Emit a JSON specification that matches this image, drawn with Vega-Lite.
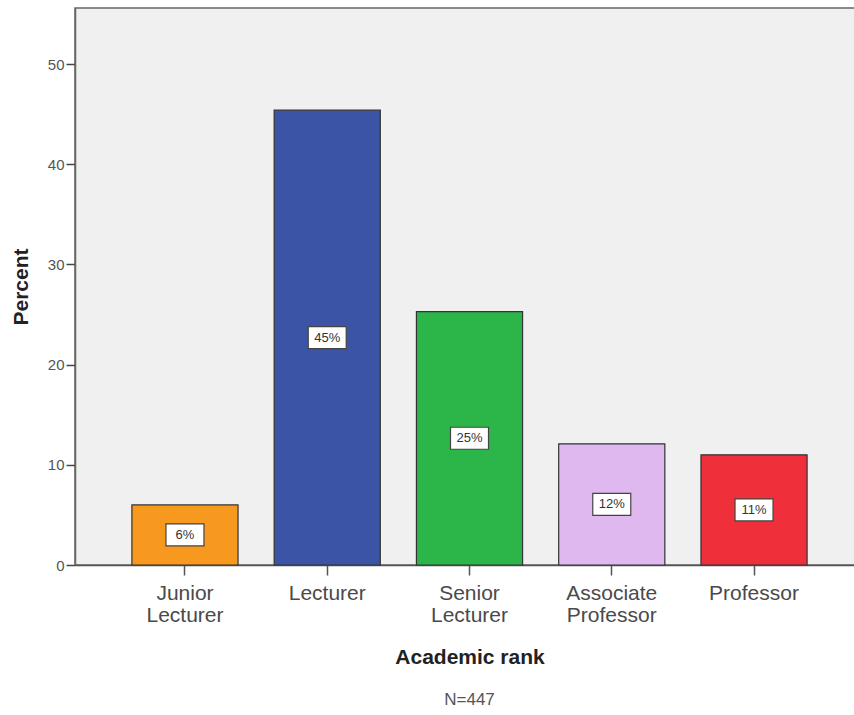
{
  "$schema": "https://vega.github.io/schema/vega-lite/v6.json",
  "autosize": {"type": "none"},
  "padding": {"left": 75, "top": 8, "right": 0, "bottom": 150},
  "width": 789,
  "height": 557,
  "background": "white",
  "config": {
    "font": "Liberation Sans",
    "view": {"fill": "#f0f0f0", "stroke": "#666", "strokeWidth": 1.5}
  },
  "title": {
    "text": "N=447",
    "orient": "bottom",
    "anchor": "middle",
    "fontSize": 17,
    "fontWeight": "normal",
    "color": "#555",
    "offset": 25
  },
  "data": {
    "values": [
      {"rank": "Junior Lecturer", "value": 6.0},
      {"rank": "Lecturer", "value": 45.4},
      {"rank": "Senior Lecturer", "value": 25.3},
      {"rank": "Associate Professor", "value": 12.1},
      {"rank": "Professor", "value": 11.0}
    ]
  },
  "transform": [
    {"calculate": "format(datum.value, '.0f') + '%'", "as": "label"}
  ],
  "encoding": {
    "x": {
      "field": "rank",
      "type": "nominal",
      "sort": null,
      "scale": {"paddingInner": 0.254, "paddingOuter": 0.4},
      "axis": {
        "title": "Academic rank",
        "titleFontSize": 21,
        "titleFontWeight": "bold",
        "titleColor": "#222",
        "titlePadding": 21,
        "labelAngle": 0,
        "labelExpr": "split(datum.label, ' ')",
        "labelFontSize": 21,
        "labelLineHeight": 22,
        "labelColor": "#4a4a4a",
        "labelPadding": 7,
        "tickSize": 10,
        "tickColor": "#555",
        "tickWidth": 1.5,
        "domainColor": "#555",
        "domainWidth": 1.5
      }
    }
  },
  "layer": [
    {
      "mark": {"type": "bar", "stroke": "#333", "strokeWidth": 1.2},
      "encoding": {
        "y": {
          "field": "value",
          "type": "quantitative",
          "scale": {"domain": [0, 55.6], "nice": false},
          "axis": {
            "title": "Percent",
            "titleFontSize": 21,
            "titleFontWeight": "bold",
            "titleColor": "#222",
            "titlePadding": 16,
            "values": [0, 10, 20, 30, 40, 50],
            "grid": false,
            "labelFontSize": 15,
            "labelColor": "#555",
            "labelPadding": 2,
            "tickSize": 9,
            "tickColor": "#444",
            "tickWidth": 1.5,
            "domainColor": "#666",
            "domainWidth": 1.5
          }
        },
        "color": {
          "field": "rank",
          "type": "nominal",
          "sort": null,
          "scale": {
            "domain": ["Junior Lecturer", "Lecturer", "Senior Lecturer", "Associate Professor", "Professor"],
            "range": ["#f7991e", "#3b54a5", "#2cb64a", "#dfb8f0", "#ef2f3a"]
          },
          "legend": null
        }
      }
    },
    {
      "mark": {
        "type": "point",
        "shape": "M-1,-0.579H1V0.579H-1Z",
        "size": 1444,
        "filled": true,
        "fill": "white",
        "stroke": "#444",
        "strokeWidth": 1.2,
        "opacity": 1
      },
      "encoding": {
        "y": {
          "field": "value",
          "type": "quantitative",
          "scale": {"domain": [0, 111.2], "nice": false},
          "axis": null
        }
      }
    },
    {
      "mark": {
        "type": "text",
        "fontSize": 13,
        "color": "#333",
        "align": "center",
        "baseline": "middle"
      },
      "encoding": {
        "y": {
          "field": "value",
          "type": "quantitative",
          "scale": {"domain": [0, 111.2], "nice": false},
          "axis": null
        },
        "text": {"field": "label"}
      }
    }
  ],
  "resolve": {"scale": {"y": "independent"}}
}
